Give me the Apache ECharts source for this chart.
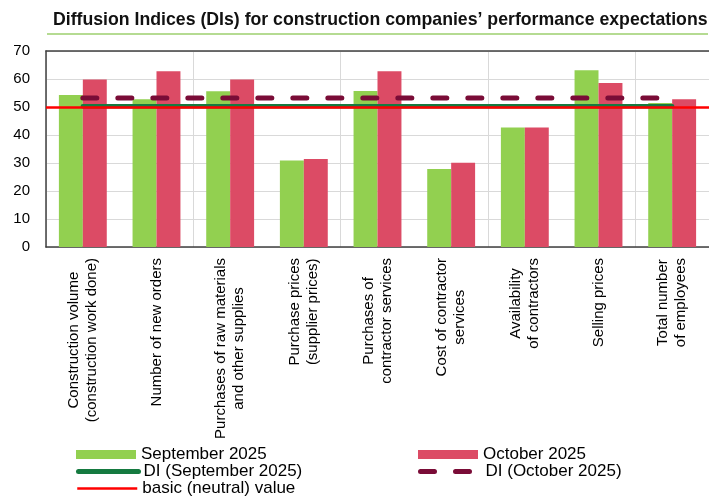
<!DOCTYPE html>
<html>
<head>
<meta charset="utf-8">
<script src="https://cdn.jsdelivr.net/npm/echarts@6/dist/echarts.min.js"></script>
<style>
html,body{margin:0;padding:0;background:#fff;}
#chart{width:709px;height:497px;}
</style>
</head>
<body>
<div id="chart"></div>
<script>
const categories = [
  "Construction volume\n(construction work done)",
  "Number of new orders",
  "Purchases of raw materials\nand other supplies",
  "Purchase prices\n(supplier prices)",
  "Purchases of\ncontractor services",
  "Cost of contractor\nservices",
  "Availability\nof contractors",
  "Selling prices",
  "Total number\nof employees"
];
const sept2025 = [54.3, 52.8, 55.6, 30.9, 55.7, 27.9, 42.7, 63.1, 51.4];
const oct2025 = [59.8, 62.8, 59.8, 31.4, 62.8, 30.1, 42.7, 58.6, 52.8];
const diSept2025 = [50.3, 50.3, 50.3, 50.3, 50.3, 50.3, 50.3, 50.3, 50.3];
const diOct2025 = [53.2, 53.2, 53.2, 53.2, 53.2, 53.2, 53.2, 53.2, 53.2];
const neutralValue = 50;
const yTicks = [0, 10, 20, 30, 40, 50, 60, 70];

const titleText = "Diffusion Indices (DIs) for construction companies\u2019 performance expectations";
const seriesNames = ["September 2025", "October 2025", "DI (September 2025)", "DI (October 2025)", "basic (neutral) value"];

const FONT = "'Liberation Sans', Arial, sans-serif";
const C_GREEN = '#92D050', C_PINK = '#DC4B65', C_DKGREEN = '#157A40', C_MAROON = '#7A0C37', C_RED = '#FF0000';

const chart = echarts.init(document.getElementById('chart'), null, {renderer: 'canvas'});

function legendAt(name, left, top, icon, lineWidth, cap) {
  const l = {
    data: [name], left: left, top: top, padding: 0, itemWidth: 60, itemHeight: 9,
    selectedMode: false,
    textStyle: {fontFamily: FONT, fontSize: 17, color: '#000'}
  };
  if (icon) l.icon = icon;
  if (lineWidth) {
    l.lineStyle = {width: lineWidth, cap: cap || 'butt'};
    l.itemStyle = {color: 'rgba(0,0,0,0)', borderWidth: 0, opacity: 0};
  }
  return l;
}

const option = {
  backgroundColor: '#fff',
  animation: false,
  title: {
    text: titleText, left: 53, top: 11, padding: 0,
    textStyle: {fontFamily: FONT, fontSize: 17.7, fontWeight: 'bold', color: '#111'}
  },
  graphic: [{
    type: 'line', shape: {x1: 47, y1: 34, x2: 708, y2: 34},
    style: {stroke: '#9CCF6E', lineWidth: 1.5}, silent: true
  }],
  grid: {left: 46, right: 0, top: 51, bottom: 250, containLabel: false},
  legend: [
    legendAt(seriesNames[0], 76, 446, 'rect'),
    legendAt(seriesNames[1], 418, 446, 'rect'),
    legendAt(seriesNames[2], 76, 463, null, 5, 'round'),
    legendAt(seriesNames[3], 418, 463, null, 5, 'round'),
    legendAt(seriesNames[4], 76, 480, null, 2.5, 'butt')
  ],
  xAxis: [{
    type: 'category', data: categories, position: 'bottom',
    axisLine: {lineStyle: {color: '#404040', width: 1.5}},
    axisTick: {show: false},
    splitLine: {show: true, interval: 1, lineStyle: {color: '#D9D9D9', width: 1}},
    axisLabel: {
      interval: 0, rotate: 90, margin: 11, color: '#000',
      fontFamily: FONT, fontSize: 15,
      formatter: v => v.split('\n').map(s => '{c|' + s + '}').join('\n'),
      rich: {c: {align: 'center', fontFamily: FONT, fontSize: 15, lineHeight: 18, color: '#000'}}
    }
  }, {
    type: 'category', data: categories, position: 'top',
    axisLine: {show: true, lineStyle: {color: '#404040', width: 1.5}},
    axisTick: {show: false}, axisLabel: {show: false}, splitLine: {show: false}
  }],
  yAxis: {
    type: 'value', min: yTicks[0], max: yTicks[yTicks.length - 1], interval: 10,
    axisLine: {show: true, lineStyle: {color: '#404040', width: 1.5}},
    axisTick: {show: false},
    splitLine: {lineStyle: {color: '#D9D9D9', width: 1}},
    axisLabel: {margin: 16, color: '#000', fontFamily: FONT, fontSize: 15}
  },
  series: [
    {
      name: seriesNames[0], type: 'bar', data: sept2025, barGap: '0%', barCategoryGap: '35%',
      itemStyle: {color: C_GREEN}, z: 2
    },
    {
      name: seriesNames[1], type: 'bar', data: oct2025, barGap: '0%', barCategoryGap: '35%',
      itemStyle: {color: C_PINK}, z: 2
    },
    {
      name: seriesNames[2], type: 'line', data: diSept2025, symbol: 'none',
      itemStyle: {color: C_DKGREEN},
      lineStyle: {color: C_DKGREEN, width: 4.5, cap: 'round'}, z: 3
    },
    {
      name: seriesNames[3], type: 'line', data: diOct2025, symbol: 'none',
      itemStyle: {color: C_MAROON},
      lineStyle: {color: C_MAROON, width: 5, type: [14, 21], cap: 'round'}, z: 5
    },
    {
      name: seriesNames[4], type: 'line', data: [], symbol: 'none',
      itemStyle: {color: C_RED},
      lineStyle: {color: C_RED, width: 2.5},
      z: 4,
      markLine: {
        silent: true, symbol: ['none', 'none'], label: {show: false},
        lineStyle: {color: C_RED, width: 2.5, type: 'solid'},
        data: [{yAxis: neutralValue}]
      }
    }
  ]
};
chart.setOption(option);
</script>
</body>
</html>
